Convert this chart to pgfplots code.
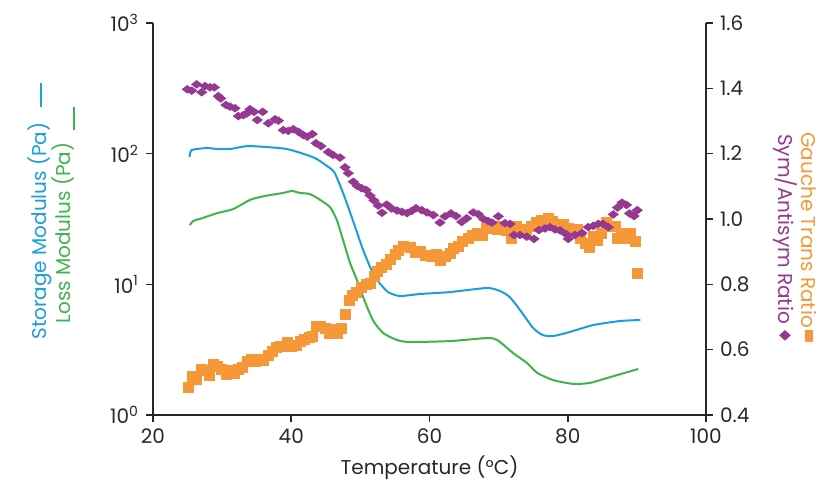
\documentclass[border=0pt]{standalone}
\usepackage{fontspec}
\setmainfont{Poppins}
\newfontfamily\dejavu{DejaVu Sans}
\usepackage{graphicx}
\usepackage{pgfplots}
\pgfplotsset{compat=1.18}

\definecolor{cstore}{RGB}{27,158,222}
\definecolor{closs}{RGB}{62,180,74}
\definecolor{cgauche}{RGB}{247,152,56}
\definecolor{csym}{RGB}{150,55,145}
\definecolor{caxis}{RGB}{40,40,40}

\pgfplotsset{
  common/.style={
    at={(0,0)}, anchor=south west,
    scale only axis, width=276.5pt, height=196pt,
    xmin=20, xmax=100,
    axis line style={caxis, line width=0.9pt, -},
    tick style={caxis, line width=0.8pt},
    tick align=outside, major tick length=3.5pt,
    tick label style={font=\normalsize, text=caxis},
    /pgf/number format/assume math mode=true,
  },
}

\begin{document}
\begin{tikzpicture}
\useasboundingbox (-76.5pt,-33.5pt) rectangle (333.5pt,207.5pt);

% left axis: moduli
\begin{axis}[common,
  ymode=log, ymin=1, ymax=1000,
  axis x line*=bottom, axis y line*=left,
  xtick={20,40,60,80,100},
  ytick={1,10,100,1000}, yminorticks=false,
  yticklabels={10\textsuperscript{0},10\textsuperscript{1},10\textsuperscript{2},10\textsuperscript{3}},
  xlabel={Temperature (°C)},
  xlabel style={at={(axis description cs:0.5,0)}, anchor=center, yshift=-26.5pt, font=\normalsize, text=caxis},
]
\addplot[cstore, line width=1pt, smooth, tension=0.4] coordinates {
(25.3,94)(25.6,106.6)(27.8,110.4)(29.3,108.5)(31.1,108.4)(33.6,114.3)(36.5,112.3)
(39.4,108.4)(42.3,97.6)(43.7,90.9)(45.6,77.6)(46.3,71.1)(47.5,50.0)(48.5,35.7)
(49.5,25.1)(50.4,18.3)(51.8,12.2)(52.8,10.2)(54.0,8.73)(55.7,8.14)(58.6,8.43)
(63.0,8.73)(68.3,9.37)(70.2,8.89)(71.6,8.00)(73.1,6.36)(75.0,4.63)(76.4,4.09)
(77.9,4.02)(80.3,4.32)(83.7,4.88)(87.6,5.24)(90.5,5.33)
};
\addplot[closs, line width=1pt, smooth, tension=0.4] coordinates {
(25.35,28.4)(25.8,30.5)(27.2,32.2)(29.3,35.1)(31.6,37.7)(34.0,44.2)(35.5,46.6)
(36.9,48.2)(38.8,50.0)(40.1,51.8)(41.3,50.0)(42.7,49.1)(44.2,44.2)(45.6,39.0)
(46.6,31.0)(47.5,21.8)(48.5,14.6)(49.5,10.8)(50.4,8.00)(51.8,5.33)(53.3,4.24)
(55.3,3.75)(57.2,3.62)(63.0,3.68)(68.3,3.88)(69.8,3.75)(72.1,2.98)(74.1,2.50)
(75.6,2.10)(77.9,1.85)(80.8,1.73)(83.2,1.76)(85.7,1.92)(90.2,2.25)
};
\end{axis}

% right axis: ratios
\begin{axis}[common,
  ymin=0.4, ymax=1.6,
  axis x line=none, axis y line*=right,
  ytick={0.4,0.6,...,1.6},
  yticklabel style={/pgf/number format/.cd, fixed, fixed zerofill, precision=1},
]
\addplot[only marks, mark=square*, mark size=2.5pt, color=cgauche] coordinates {
(25.11,0.485)(25.69,0.519)(26.32,0.509)(26.94,0.540)(27.52,0.538)(28.14,0.522)
(28.72,0.556)(29.36,0.548)(29.94,0.540)(30.56,0.525)(31.24,0.538)(31.76,0.528)
(32.34,0.540)(32.98,0.546)(33.64,0.565)(34.18,0.570)(34.76,0.565)(35.38,0.570)
(35.96,0.566)(36.68,0.581)(37.26,0.594)(37.79,0.606)(38.37,0.609)(38.95,0.611)
(39.49,0.623)(40.07,0.609)(40.79,0.614)(41.37,0.624)(41.89,0.632)(42.57,0.637)
(43.10,0.642)(43.68,0.672)(44.26,0.672)(44.88,0.665)(45.46,0.650)(46.08,0.662)
(46.66,0.650)(47.30,0.665)(47.85,0.708)(48.36,0.752)(48.89,0.766)(49.47,0.776)
(50.09,0.790)(50.82,0.799)(51.39,0.803)(52.04,0.825)(52.48,0.839)(53.09,0.851)
(53.78,0.862)(54.39,0.877)(55.01,0.893)(55.49,0.905)(56.21,0.917)(57.18,0.912)
(57.90,0.897)(58.63,0.900)(59.35,0.890)(60.32,0.885)(60.94,0.891)(61.52,0.874)
(62.24,0.884)(62.97,0.895)(63.44,0.910)(64.17,0.917)(64.80,0.930)(65.61,0.941)
(66.25,0.951)(66.92,0.956)(67.70,0.951)(68.17,0.971)(68.90,0.976)(69.81,0.968)
(70.53,0.976)(71.07,0.966)(71.89,0.941)(72.62,0.976)(73.34,0.961)(73.96,0.968)
(74.79,0.976)(75.51,0.989)(76.23,0.995)(77.19,1.002)(77.82,0.992)(78.63,0.976)
(79.36,0.982)(80.08,0.971)(80.57,0.961)(81.38,0.968)(81.77,0.941)(82.50,0.926)
(83.12,0.913)(83.70,0.946)(84.28,0.936)(84.91,0.956)(85.53,0.989)(86.21,0.978)
(86.84,0.976)(87.23,0.941)(87.81,0.956)(88.53,0.941)(89.11,0.956)(89.73,0.931)
(90.06,0.834)
};
\addplot[only marks, mark=diamond*, mark size=2.5pt, mark options={rotate=90}, color=csym] coordinates {
(24.96,1.397)(25.60,1.393)(26.32,1.412)(27.05,1.388)(27.52,1.407)(28.25,1.403)
(28.87,1.403)(29.45,1.376)(29.79,1.369)(30.56,1.349)(31.14,1.344)(31.86,1.339)
(32.34,1.315)(33.06,1.318)(33.56,1.323)(34.03,1.336)(34.61,1.328)(35.09,1.303)
(35.87,1.328)(36.68,1.293)(37.65,1.305)(38.13,1.301)(38.85,1.272)(39.57,1.270)
(40.30,1.275)(41.02,1.267)(41.74,1.257)(42.32,1.252)(43.05,1.260)(43.58,1.232)
(44.30,1.223)(45.36,1.205)(46.04,1.196)(47.05,1.188)(47.78,1.158)(48.25,1.140)
(48.98,1.114)(49.56,1.101)(50.19,1.094)(50.82,1.089)(51.39,1.072)(51.97,1.057)
(52.59,1.041)(53.13,1.019)(53.81,1.044)(54.53,1.032)(55.30,1.026)(56.02,1.022)
(56.75,1.018)(57.43,1.025)(58.05,1.033)(58.87,1.027)(59.64,1.020)(60.55,1.012)
(61.52,0.989)(62.24,1.008)(63.11,1.017)(63.84,1.009)(64.66,0.991)(65.38,1.002)
(66.34,1.020)(67.06,1.015)(67.78,1.000)(68.46,0.994)(69.04,0.989)(69.95,1.008)
(70.92,0.987)(71.65,0.985)(72.22,0.951)(73.09,0.951)(74.06,0.946)(75.12,0.939)
(75.84,0.966)(76.71,0.971)(77.43,0.975)(78.16,0.968)(78.88,0.965)(79.75,0.954)
(80.08,0.939)(81.05,0.951)(82.06,0.957)(82.97,0.975)(83.70,0.979)(84.42,0.985)
(85.10,0.985)(85.87,0.975)(86.59,1.014)(87.20,1.035)(87.85,1.050)(88.50,1.043)
(88.94,1.017)(89.59,1.009)(90.06,1.027)
};
\end{axis}

% rotated legend at the sides
\node[rotate=90, text=cstore, font=\normalsize] at (-56.5pt,92pt) {Storage Modulus (Pa)};
\draw[cstore, line width=1pt] (-56pt,154pt) -- (-56pt,166pt);
\node[rotate=90, text=closs, font=\normalsize] at (-45pt,91pt) {Loss Modulus (Pa)};
\draw[closs, line width=1pt] (-39.5pt,142.5pt) -- (-39.5pt,154pt);
\node[rotate=-90, text=cgauche, font=\normalsize] at (328pt,92.5pt) {Gauche Trans Ratio};
\node[text=cgauche, inner sep=0pt] at (328pt,39.5pt) {\resizebox{5pt}{5pt}{\dejavu ■}};
\node[rotate=-90, text=csym, font=\normalsize] at (316pt,93pt) {Sym/Antisym Ratio};
\node[text=csym, inner sep=0pt] at (316pt,39.5pt) {\resizebox{6pt}{4.5pt}{\dejavu ◆}};
\end{tikzpicture}
\end{document}
